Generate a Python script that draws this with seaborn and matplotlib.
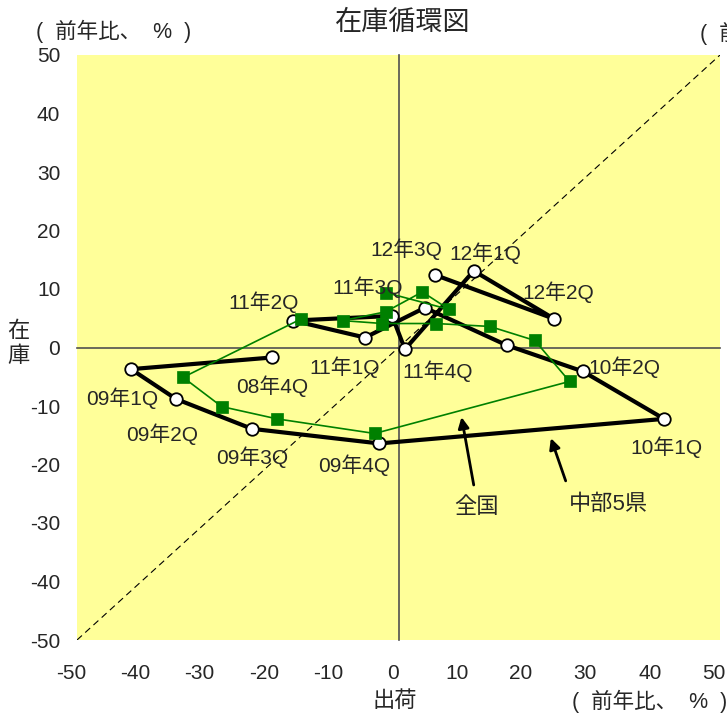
import matplotlib
matplotlib.use("Agg")
import matplotlib.pyplot as plt
from matplotlib.transforms import ScaledTranslation
import seaborn as sns
import pandas as pd

# ---- data ----
quarters = ["08年4Q", "09年1Q", "09年2Q", "09年3Q", "09年4Q",
            "10年1Q", "10年2Q", "10年3Q", "10年4Q",
            "11年1Q", "11年2Q", "11年3Q", "11年4Q",
            "12年1Q", "12年2Q", "12年3Q"]
# 中部5県 (black)
chubu_ship = [-19.6, -41.6, -34.6, -22.8, -3.0, 41.3, 28.7, 16.8, 4.1,
              -5.2, -16.4, -1.0, 1.0, 11.7, 24.2, 5.7]
chubu_inv = [-1.7, -3.7, -8.8, -13.9, -16.4, -12.2, -4.1, 0.4, 6.8,
             1.7, 4.6, 5.4, -0.3, 13.1, 4.9, 12.4]
# 全国 (green)
zenkoku_quarters = quarters[:15]
zenkoku_ship = [-15.1, -33.5, -27.5, -18.9, -3.7, 26.6, 21.2, 14.2, 5.8,
                -2.5, -8.7, -2.0, 3.7, 7.9, -2.0]
zenkoku_inv = [4.9, -5.1, -10.1, -12.2, -14.7, -5.8, 1.2, 3.6, 4.1,
               4.1, 4.6, 6.1, 9.5, 6.5, 9.4]
x_ticks = [-50, -40, -30, -20, -10, 0, 10, 20, 30, 40, 50]
y_ticks = [-50, -40, -30, -20, -10, 0, 10, 20, 30, 40, 50]
label_quarters = ["08年4Q", "09年1Q", "09年2Q", "09年3Q", "09年4Q",
                  "10年1Q", "10年2Q", "11年1Q", "11年2Q", "11年3Q",
                  "11年4Q", "12年1Q", "12年2Q", "12年3Q"]
# label offsets in pixels (dx right, dy down)
label_offsets = {"08年4Q": (0, 29), "09年1Q": (-9, 29), "09年2Q": (-14, 35),
                 "09年3Q": (0, 28), "09年4Q": (-25, 22), "10年1Q": (2, 28),
                 "10年2Q": (41, -4), "11年1Q": (-20, 30), "11年2Q": (-29, -18),
                 "11年3Q": (-24, -29), "11年4Q": (33, 22), "12年1Q": (12, -18),
                 "12年2Q": (4, -27), "12年3Q": (-29, -26)}
title = "在庫循環図"
unit_label = "(  前年比、  %  )"
x_label = "出荷"
y_label = "在\n庫"
series_names = ["全国", "中部5県"]

df_chubu = pd.DataFrame({"q": quarters, "ship": chubu_ship, "inv": chubu_inv})
df_zen = pd.DataFrame({"q": zenkoku_quarters, "ship": zenkoku_ship, "inv": zenkoku_inv})

sns.set_style("white")
plt.rcParams["font.family"] = ["Liberation Sans", "Noto Sans CJK JP"]
plt.rcParams["axes.unicode_minus"] = False

W, H = 727, 717
fig = plt.figure(figsize=(W / 100, H / 100), dpi=100)
ax = fig.add_axes([77 / W, 1 - 640 / H, 643 / W, 585 / H])
ax.set_facecolor("#FFFF99")
ax.set_xlim(-50, 50)
ax.set_ylim(-50, 50)

ax.axline((0, 0), slope=1, color="black", lw=0.8, dashes=(6, 4), zorder=1)

sns.lineplot(data=df_chubu, x="ship", y="inv", sort=False, estimator=None,
             color="black", lw=3.0, marker="o", ms=9, mfc="white", mec="black",
             mew=1.3, ax=ax, zorder=3)
sns.lineplot(data=df_zen, x="ship", y="inv", sort=False, estimator=None,
             color="#008000", lw=1.2, marker="s", ms=8.3, mfc="#008000",
             mec="#008000", mew=0.5, ax=ax, zorder=4)

for q in label_quarters:
    i = quarters.index(q)
    dx, dy = label_offsets[q]
    ax.annotate(q, (chubu_ship[i], chubu_inv[i]), xytext=(dx, -dy),
                textcoords="offset pixels", ha="center", va="center",
                fontsize=15, zorder=5)

# zero-crossing axes
for s in ["top", "right"]:
    ax.spines[s].set_visible(False)
ax.spines["left"].set_position(("data", 0))
ax.spines["bottom"].set_position(("data", 0))
for s in ["left", "bottom"]:
    ax.spines[s].set_color("#505050")
    ax.spines[s].set_linewidth(1.2)
    ax.spines[s].set_zorder(2)
ax.set_xticks(x_ticks)
ax.set_yticks(y_ticks)
ax.tick_params(direction="in", length=6, width=1, color="#505050",
               labelleft=False, labelbottom=False)
ax.set_xlabel("")
ax.set_ylabel("")

secx = ax.secondary_xaxis(0.0)
secx.set_xticks(x_ticks)
secx.set_xticklabels([str(v) for v in x_ticks])
secx.tick_params(length=0, pad=17, labelsize=15)
secx.spines["bottom"].set_visible(False)
shift = ScaledTranslation(-6 / 100, 0, fig.dpi_scale_trans)
for lab in secx.get_xticklabels():
    lab.set_transform(lab.get_transform() + shift)
secy = ax.secondary_yaxis(0.0)
secy.set_yticks(y_ticks)
secy.set_yticklabels([str(v) for v in y_ticks])
secy.tick_params(length=0, pad=12, labelsize=15)
secy.spines["left"].set_visible(False)

# arrows
ax.annotate("", xy=(9.8, -11.9), xytext=(11.7, -23.5),
            arrowprops=dict(arrowstyle="-|>", color="black", lw=2,
                            mutation_scale=16, shrinkA=0, shrinkB=0))
ax.text(12.2, -27.4, series_names[0], ha="center", va="center", fontsize=16)
ax.annotate("", xy=(23.7, -15.5), xytext=(26.0, -22.8),
            arrowprops=dict(arrowstyle="-|>", color="black", lw=2,
                            mutation_scale=16, shrinkA=0, shrinkB=0))
ax.text(32.6, -26.9, series_names[1], ha="center", va="center", fontsize=16)

fig.text(403 / W, 1 - 23 / H, title, ha="center", va="center", fontsize=19.5)
fig.text(36 / W, 1 - 31 / H, unit_label, ha="left", va="center", fontsize=15.5)
fig.text(700 / W, 1 - 33 / H, unit_label, ha="left", va="center", fontsize=15.5)
fig.text(572 / W, 1 - 701 / H, unit_label, ha="left", va="center", fontsize=15.5)
fig.text(395 / W, 1 - 701 / H, x_label, ha="center", va="center", fontsize=16)
fig.text(18 / W, 1 - 344 / H, y_label, ha="center", va="center", fontsize=16,
         linespacing=1.25)

fig.savefig("out.png", dpi=100)
